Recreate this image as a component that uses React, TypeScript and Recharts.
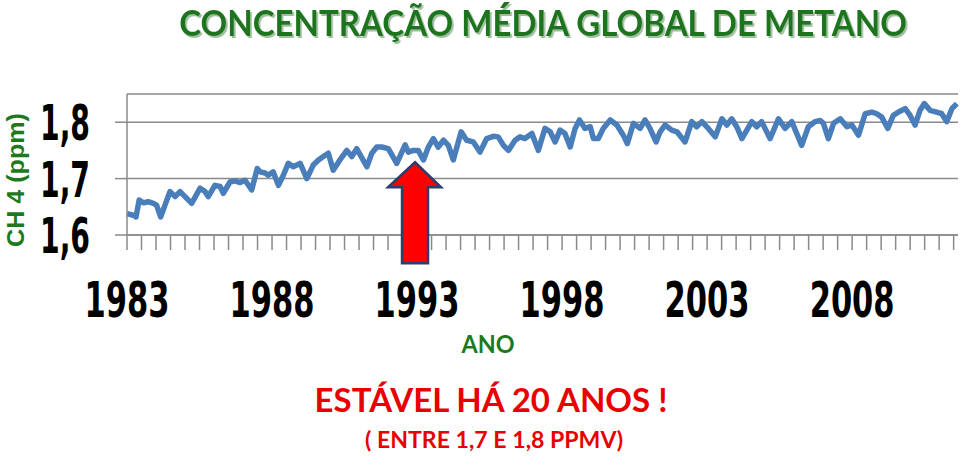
import React from 'react';
import {
  LineChart,
  Line,
  XAxis,
  YAxis,
  CartesianGrid,
  ReferenceDot,
} from 'recharts';

// Anos (fração do ano) e concentração de metano
const anos = [
  1983.0, 1983.22, 1983.31, 1983.42, 1983.56, 1983.73, 1983.91, 1984.02, 1984.16, 1984.31,
  1984.48, 1984.66, 1984.83, 1985.0, 1985.23, 1985.52, 1985.69, 1985.8, 1986.03, 1986.21,
  1986.32, 1986.55, 1986.72, 1986.9, 1987.07, 1987.3, 1987.49, 1987.59, 1987.76, 1987.87,
  1988.04, 1988.22, 1988.39, 1988.56, 1988.73, 1988.97, 1989.2, 1989.42, 1989.6, 1989.77,
  1989.94, 1990.11, 1990.34, 1990.58, 1990.75, 1990.92, 1991.27, 1991.44, 1991.61, 1991.78,
  1992.01, 1992.3, 1992.59, 1992.7, 1992.87, 1993.04, 1993.22, 1993.39, 1993.56, 1993.73,
  1993.91, 1994.08, 1994.25, 1994.52, 1994.71, 1994.94, 1995.17, 1995.4, 1995.63, 1995.8,
  1995.98, 1996.15, 1996.38, 1996.55, 1996.72, 1996.96, 1997.18, 1997.41, 1997.59, 1997.76,
  1997.93, 1998.1, 1998.28, 1998.45, 1998.6, 1998.79, 1998.97, 1999.08, 1999.25, 1999.42,
  1999.66, 1999.89, 2000.11, 2000.25, 2000.46, 2000.69, 2000.86, 2001.03, 2001.24, 2001.38,
  2001.55, 2001.78, 2001.96, 2002.24, 2002.47, 2002.64, 2002.82, 2003.04, 2003.28, 2003.51,
  2003.68, 2003.85, 2004.02, 2004.2, 2004.54, 2004.71, 2004.88, 2005.17, 2005.46, 2005.69,
  2005.92, 2006.09, 2006.26, 2006.49, 2006.72, 2006.9, 2007.01, 2007.18, 2007.36, 2007.59,
  2007.82, 2007.99, 2008.22, 2008.45, 2008.68, 2008.85, 2009.02, 2009.23, 2009.42, 2009.6,
  2009.83, 2010.0, 2010.17, 2010.34, 2010.49, 2010.69, 2010.91, 2011.09, 2011.26, 2011.44,
  2011.61,
];

const ch4 = [
  1.638, 1.635, 1.632, 1.662, 1.657, 1.659, 1.656, 1.653, 1.632, 1.653,
  1.677, 1.668, 1.677, 1.668, 1.656, 1.683, 1.677, 1.668, 1.688, 1.686,
  1.674, 1.694, 1.696, 1.693, 1.697, 1.68, 1.718, 1.712, 1.71, 1.706,
  1.712, 1.688, 1.706, 1.727, 1.721, 1.727, 1.7, 1.724, 1.733, 1.739,
  1.745, 1.715, 1.733, 1.75, 1.739, 1.753, 1.721, 1.745, 1.756, 1.756,
  1.753, 1.727, 1.76, 1.747, 1.75, 1.75, 1.733, 1.756, 1.771, 1.756,
  1.768, 1.759, 1.733, 1.783, 1.768, 1.765, 1.747, 1.771, 1.775, 1.774,
  1.759, 1.75, 1.768, 1.774, 1.771, 1.78, 1.75, 1.789, 1.783, 1.765,
  1.786, 1.78, 1.756, 1.789, 1.804, 1.789, 1.792, 1.771, 1.771, 1.789,
  1.804, 1.795, 1.777, 1.762, 1.798, 1.789, 1.804, 1.789, 1.765, 1.783,
  1.795, 1.786, 1.783, 1.765, 1.801, 1.792, 1.801, 1.789, 1.774, 1.806,
  1.795, 1.806, 1.792, 1.771, 1.801, 1.792, 1.801, 1.771, 1.806, 1.789,
  1.801, 1.78, 1.759, 1.792, 1.801, 1.803, 1.798, 1.771, 1.798, 1.806,
  1.792, 1.795, 1.777, 1.815, 1.818, 1.815, 1.809, 1.789, 1.812, 1.818,
  1.824, 1.812, 1.795, 1.821, 1.833, 1.821, 1.818, 1.815, 1.801, 1.824,
  1.833,
];

// Marcas do eixo X a cada meio ano; rótulos só a cada 5 anos
const xTicks = Array.from({ length: 58 }, (_, i) => 1983 + i * 0.5);
const xLabels = [1983, 1988, 1993, 1998, 2003, 2008];
const yTicks = [1.6, 1.7, 1.8];

// ponta da seta vermelha
const arrowAt = { ano: 1992.93, ch4: 1.729 };

const data = anos.map((ano, i) => ({ ano, ch4: ch4[i] }));

const NARROW = "'Liberation Sans Narrow', 'Arial Narrow', 'DejaVu Sans Condensed', sans-serif";
const SANS = "Lato, 'Open Sans', sans-serif";
const GRID = '#8a8a8a';

const XTick = (props: any) => {
  const { x, y, payload } = props;
  if (!xLabels.includes(payload.value)) return <g />;
  return (
    <text
      x={x}
      y={y}
      dy={65}
      textAnchor="middle"
      fontFamily={NARROW}
      fontWeight="bold"
      fontSize={50}
      fill="#000"
      textLength={85}
      lengthAdjust="spacingAndGlyphs"
    >
      {payload.value}
    </text>
  );
};

const YTick = (props: any) => {
  const { x, y, payload } = props;
  return (
    <text
      x={x}
      y={y}
      dy={18}
      textAnchor="end"
      fontFamily={NARROW}
      fontWeight="bold"
      fontSize={50}
      fill="#000"
      textLength={50}
      lengthAdjust="spacingAndGlyphs"
    >
      {payload.value.toFixed(1).replace('.', ',')}
    </text>
  );
};

const Arrow = (props: any) => {
  const { cx, cy } = props;
  if (cx == null || cy == null) return <g />;
  const pts = [
    [cx, cy],
    [cx + 26, cy + 25],
    [cx + 13, cy + 25],
    [cx + 13, cy + 101],
    [cx - 13, cy + 101],
    [cx - 13, cy + 25],
    [cx - 27, cy + 25],
  ]
    .map((p) => p.join(','))
    .join(' ');
  return <polygon points={pts} fill="#ff0000" stroke="#2e3d6b" strokeWidth={2.5} strokeLinejoin="miter" />;
};

export default function App() {
  return (
    <div style={{ position: 'absolute', left: 0, top: 0, width: 960, height: 465, background: '#fff' }}>
      <LineChart
        width={960}
        height={465}
        data={data}
        margin={{ top: 94, right: 2, left: 67, bottom: 170 }}
      >
        <CartesianGrid vertical={false} stroke={GRID} strokeWidth={1.5} />
        <XAxis
          dataKey="ano"
          type="number"
          domain={[1983, 2011.65]}
          ticks={xTicks}
          interval={0}
          height={60}
          tickSize={15}
          axisLine={{ stroke: GRID, strokeWidth: 1.5 }}
          tickLine={{ stroke: GRID, strokeWidth: 1.5 }}
          tick={<XTick />}
        />
        <YAxis
          type="number"
          domain={[1.6, 1.85]}
          ticks={yTicks}
          width={60}
          tickSize={12}
          tickMargin={25}
          axisLine={{ stroke: GRID, strokeWidth: 1.5 }}
          tickLine={{ stroke: GRID, strokeWidth: 1.5 }}
          tick={<YTick />}
        />
        <Line
          type="linear"
          dataKey="ch4"
          stroke="#4a7ebb"
          strokeWidth={5.5}
          strokeLinejoin="round"
          dot={false}
          isAnimationActive={false}
        />
        <ReferenceDot x={arrowAt.ano} y={arrowAt.ch4} shape={<Arrow />} ifOverflow="visible" />
      </LineChart>
      <svg
        width={960}
        height={465}
        style={{ position: 'absolute', left: 0, top: 0, pointerEvents: 'none' }}
      >
        <defs>
          <filter id="sombra" x="-5%" y="-20%" width="110%" height="150%">
            <feDropShadow dx={2} dy={2} stdDeviation={0.6} floodColor="#9fbf9f" floodOpacity={1} />
          </filter>
        </defs>
        <g transform="translate(543,36) scale(0.88,1)">
          <text
            x={0}
            y={0}
            textAnchor="middle"
            fontFamily={SANS}
            fontWeight="bold"
            fontSize={36}
            fill="#1b741b"
            textLength={827}
            lengthAdjust="spacingAndGlyphs"
            filter="url(#sombra)"
          >
            CONCENTRAÇÃO MÉDIA GLOBAL DE METANO
          </text>
        </g>
        <text
          transform="translate(24,180) rotate(-90)"
          textAnchor="middle"
          fontFamily="'Liberation Sans', Arial, sans-serif"
          fontWeight="bold"
          fontSize={24}
          fill="#1c7a1c"
          textLength={134}
          lengthAdjust="spacingAndGlyphs"
        >
          CH 4 (ppm)
        </text>
        <text
          x={488}
          y={353}
          textAnchor="middle"
          fontFamily={SANS}
          fontWeight="bold"
          fontSize={25}
          fill="#1c7a1c"
          textLength={53}
          lengthAdjust="spacingAndGlyphs"
        >
          ANO
        </text>
        <text
          x={491}
          y={412}
          textAnchor="middle"
          fontFamily={SANS}
          fontWeight="bold"
          fontSize={33}
          fill="#e80000"
          textLength={353}
          lengthAdjust="spacingAndGlyphs"
        >
          ESTÁVEL HÁ 20 ANOS !
        </text>
        <text
          x={494}
          y={448}
          textAnchor="middle"
          fontFamily={SANS}
          fontWeight="bold"
          fontSize={22}
          fill="#e80000"
          textLength={258}
          lengthAdjust="spacingAndGlyphs"
        >
          ( ENTRE 1,7 E 1,8 PPMV)
        </text>
      </svg>
    </div>
  );
}
